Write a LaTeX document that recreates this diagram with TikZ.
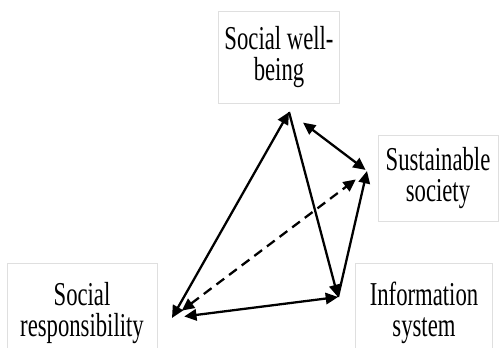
\documentclass[tikz,border=0pt]{standalone}
\usepackage{fontspec}
\setmainfont{Liberation Serif}
\newfontfamily\boxfont[FakeStretch=0.68]{Liberation Serif}
\usetikzlibrary{arrows.meta}

\begin{document}
\begin{tikzpicture}[x=0.02cm, y=-0.02cm,
    box/.style={draw=gray!25, line width=0.5pt, align=center, inner sep=0pt,
        font={\boxfont\fontsize{19}{17.5}\selectfont}},
    link/.style={line width=1.3pt, >={Triangle[length=7pt,width=6.5pt]}}]
        \clip (0,0) rectangle (501,348);

        % Boxes
        \node[box, minimum width=2.42cm, minimum height=1.84cm] (wb) at (279,57) {Social well-\\being};
        \node[box, minimum width=2.4cm, minimum height=1.72cm] (ss) at (438,178) {Sustainable\\society};
        \node[box, minimum width=3cm, minimum height=2cm] (sr) at (82,313) {Social\\responsibility};
        \node[box, minimum width=2.74cm, minimum height=2cm] (is) at (424,313) {Information\\system};

        % Meeting points of the arrows
        \coordinate (wbpt) at (289,112);
        \coordinate (sspt) at (367,171);
        \coordinate (srpt) at (172,318);
        \coordinate (ispt) at (338,297);

        % Links
        \draw[link, <->] (srpt) -- (wbpt);
        \draw[link, ->] (wbpt) -- (ispt);
        \draw[link, <->, shorten <=10pt, shorten >=1pt] (wbpt) -- (sspt);
        \draw[link, ->] (ispt) -- (sspt);
        \draw[link, <->, dash pattern=on 5.5pt off 3.5pt, shorten <=7pt, shorten >=8pt] (srpt) -- (sspt);
        \draw[link, <->, shorten <=7pt] (srpt) -- (ispt);
    \end{tikzpicture}
\end{document}
